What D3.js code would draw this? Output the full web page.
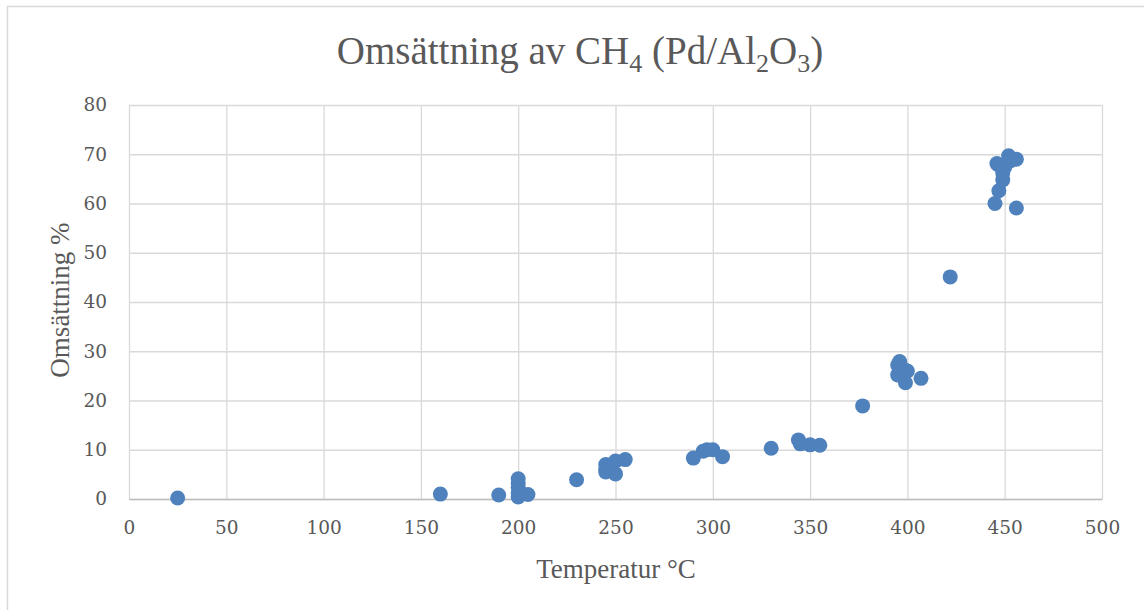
<!DOCTYPE html>
<html>
<head>
<meta charset="utf-8">
<script src="https://cdn.jsdelivr.net/npm/d3@7"></script>
<style>
  html, body { margin: 0; padding: 0; background: #fff; }
  svg { display: block; font-family: "Liberation Serif", "DejaVu Serif", serif; }
</style>
</head>
<body>
<div id="chart"></div>
<script>
// Temperature (°C) and conversion (%)
const temperatures = [25, 160, 190, 200, 200, 200, 200, 200, 205, 230,
  245, 245, 245, 247, 250, 250, 255,
  290, 295, 297, 300, 305, 330,
  344, 345, 350, 355, 377,
  395, 395, 396, 398, 400, 399, 407, 422,
  445, 447, 449, 449, 450, 446, 447, 452, 453, 456, 456];
const conversions = [0.2, 1.0, 0.8, 4.1, 3.2, 2.4, 1.2, 0.4, 0.9, 3.9,
  7.0, 6.0, 5.5, 6.6, 7.7, 5.1, 8.0,
  8.3, 9.7, 10.0, 10.0, 8.6, 10.3,
  12.0, 11.2, 11.0, 10.9, 18.9,
  25.2, 27.2, 27.9, 26.4, 26.0, 23.6, 24.5, 45.1,
  60.0, 62.6, 64.8, 66.2, 67.3, 68.1, 67.8, 69.7, 68.7, 69.0, 59.1];
const xTicks = [0, 50, 100, 150, 200, 250, 300, 350, 400, 450, 500];
const yTicks = [0, 10, 20, 30, 40, 50, 60, 70, 80];

const W = 1144, H = 610;
const margin = { top: 105, right: 42, bottom: 111, left: 129 };
const width = W - margin.left - margin.right;
const height = H - margin.top - margin.bottom;

const svg = d3.select("#chart").append("svg")
  .attr("width", W).attr("height", H);

// Chart border
svg.append("rect")
  .attr("x", 7.5).attr("y", 6.5)
  .attr("width", W + 10).attr("height", H + 10)
  .attr("fill", "none").attr("stroke", "#d9d9d9").attr("stroke-width", 1.5);

const g = svg.append("g").attr("transform", `translate(${margin.left},${margin.top})`);

const x = d3.scaleLinear().domain([0, 500]).range([0, width]);
const y = d3.scaleLinear().domain([0, 80]).range([height, 0]);

// Vertical gridlines
g.append("g")
  .call(d3.axisBottom(x).tickValues(xTicks).tickSize(height).tickFormat(""))
  .call(s => s.select(".domain").remove())
  .call(s => s.selectAll("line").attr("stroke", "#d9d9d9").attr("stroke-width", 1.3));

// Horizontal gridlines
g.append("g")
  .call(d3.axisLeft(y).tickValues(yTicks).tickSize(-width).tickFormat(""))
  .call(s => s.select(".domain").remove())
  .call(s => s.selectAll("line").attr("stroke", "#d9d9d9").attr("stroke-width", 1.3));

// Tick label styling (serif like the original)
const styleTicks = s => s.selectAll("text")
  .attr("fill", "#595959")
  .style("font-family", "'DejaVu Serif', serif")
  .style("font-size", "18.5px");

// X axis
g.append("g")
  .attr("transform", `translate(0,${height})`)
  .call(d3.axisBottom(x).tickValues(xTicks).tickSize(0).tickPadding(22))
  .call(s => s.select(".domain").attr("stroke", "#bfbfbf").attr("stroke-width", 1.5))
  .call(styleTicks);

// Y axis
g.append("g")
  .call(d3.axisLeft(y).tickValues(yTicks).tickSize(0).tickPadding(22))
  .call(s => s.select(".domain").remove())
  .call(styleTicks);

// Points
g.append("g").selectAll("circle")
  .data(temperatures.map((t, i) => ({ t, v: conversions[i] })))
  .enter().append("circle")
  .attr("cx", d => x(d.t))
  .attr("cy", d => y(d.v))
  .attr("r", 7.5)
  .attr("fill", "#4f81bd");

// Title
const title = svg.append("text")
  .attr("x", 580).attr("y", 64)
  .attr("text-anchor", "middle")
  .attr("fill", "#595959")
  .style("font-size", "39px");
title.append("tspan").text("Omsättning av CH");
title.append("tspan").attr("dy", 8).style("font-size", "26px").text("4");
title.append("tspan").attr("dy", -8).text(" (Pd/Al");
title.append("tspan").attr("dy", 8).style("font-size", "26px").text("2");
title.append("tspan").attr("dy", -8).text("O");
title.append("tspan").attr("dy", 8).style("font-size", "26px").text("3");
title.append("tspan").attr("dy", -8).text(")");

// Axis titles
svg.append("text")
  .attr("x", 616).attr("y", 578)
  .attr("text-anchor", "middle")
  .attr("fill", "#595959")
  .style("font-size", "27px")
  .text("Temperatur °C");

svg.append("text")
  .attr("transform", "translate(69,300) rotate(-90)")
  .attr("text-anchor", "middle")
  .attr("fill", "#595959")
  .style("font-size", "27px")
  .text("Omsättning %");
</script>
</body>
</html>
